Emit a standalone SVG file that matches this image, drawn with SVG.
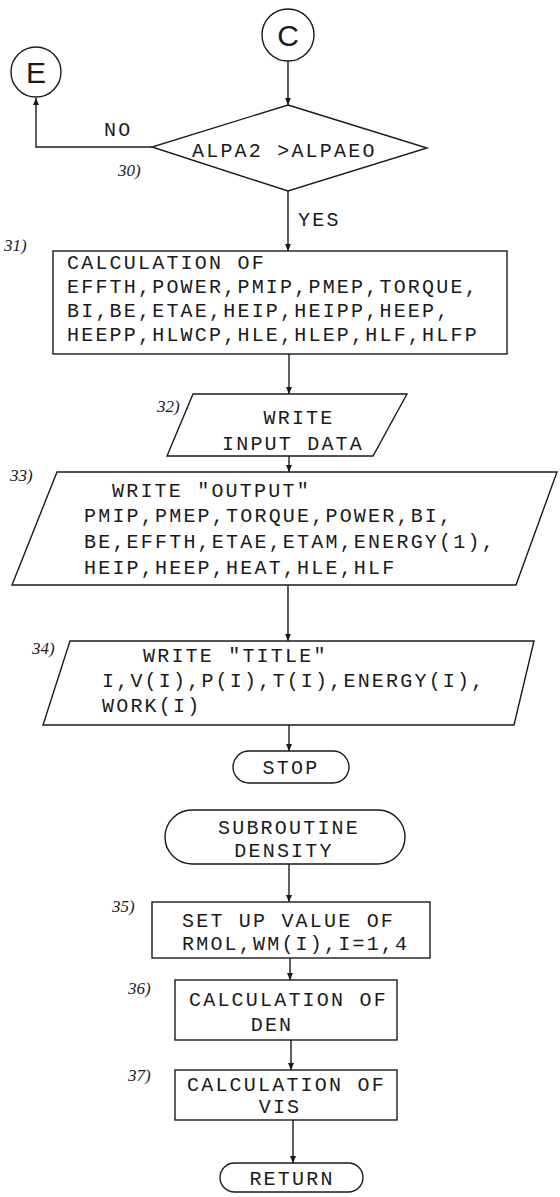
<svg xmlns="http://www.w3.org/2000/svg" width="560" height="1197" viewBox="0 0 560 1197">
<style>
.s{fill:none;stroke:#1a1a1a;stroke-width:1.4}
.t{font-family:"Liberation Mono",monospace;font-size:20px;letter-spacing:2.2px;fill:#1a1a1a}
.m{text-anchor:middle}
.n{font-family:"Liberation Serif",serif;font-style:italic;font-size:17px;fill:#1a1a1a}
.c{font-family:"Liberation Sans",sans-serif;font-size:30px;fill:#1a1a1a;text-anchor:middle}
</style>
<defs>
<marker id="a" markerWidth="7" markerHeight="6" refX="7" refY="3" orient="auto" markerUnits="userSpaceOnUse">
<path d="M0,0 L7,3 L0,6 z" fill="#1a1a1a"/>
</marker>
</defs>
<rect width="560" height="1197" fill="#fff"/>
<g id="connectors" class="s" marker-end="url(#a)">
<path d="M288,61 V105"/>
<path d="M152,147 H36 V98"/>
<path d="M288,191 V251"/>
<path d="M289,354 V394"/>
<path d="M289,456 V472"/>
<path d="M288,585 V641"/>
<path d="M289,725 V751"/>
<path d="M289,864 V902"/>
<path d="M290,958 V980"/>
<path d="M291,1040 V1070"/>
<path d="M293,1120 V1163"/>
</g>
<g id="C">
<circle class="s" cx="288" cy="35" r="26"/>
<text class="c" x="288" y="46">C</text>
</g>
<g id="E">
<circle class="s" cx="36" cy="72" r="25"/>
<text class="c" x="36" y="83">E</text>
</g>
<g id="n30">
<polygon class="s" points="288,105 427,148 288,191 152,147"/>
<text class="t" x="192" y="157">ALPA2 &gt;ALPAEO</text>
<text class="n" x="118" y="176">30)</text>
<text class="t" x="104" y="136">NO</text>
<text class="t" x="298" y="226">YES</text>
</g>
<g id="n31">
<rect class="s" x="53" y="251" width="454" height="103"/>
<text class="n" x="4" y="251">31)</text>
<text class="t" x="67" y="269">CALCULATION OF</text>
<text class="t" x="67" y="293">EFFTH,POWER,PMIP,PMEP,TORQUE,</text>
<text class="t" x="67" y="317">BI,BE,ETAE,HEIP,HEIPP,HEEP,</text>
<text class="t" x="67" y="341">HEEPP,HLWCP,HLE,HLEP,HLF,HLFP</text>
</g>
<g id="n32">
<polygon class="s" points="193,394 407,394 373,456 167,456"/>
<text class="n" x="157" y="412">32)</text>
<text class="t m" x="299" y="424">WRITE</text>
<text class="t m" x="293" y="450">INPUT DATA</text>
</g>
<g id="n33">
<polygon class="s" points="57,472 557,472 516,585 12,585"/>
<text class="n" x="10" y="481">33)</text>
<text class="t" x="112" y="497">WRITE  "OUTPUT"</text>
<text class="t" x="84" y="522">PMIP,PMEP,TORQUE,POWER,BI,</text>
<text class="t" x="84" y="548">BE,EFFTH,ETAE,ETAM,ENERGY(1),</text>
<text class="t" x="84" y="574">HEIP,HEEP,HEAT,HLE,HLF</text>
</g>
<g id="n34">
<polygon class="s" points="70,641 534,641 514,725 43,725"/>
<text class="n" x="32" y="654">34)</text>
<text class="t" x="143" y="662">WRITE  "TITLE"</text>
<text class="t" x="102" y="687">I,V(I),P(I),T(I),ENERGY(I),</text>
<text class="t" x="102" y="712">WORK(I)</text>
</g>
<g id="stop">
<rect class="s" x="233" y="751" width="116" height="32" rx="16"/>
<text class="t m" x="291" y="774">STOP</text>
</g>
<g id="sub">
<rect class="s" x="165" y="810" width="240" height="54" rx="27"/>
<text class="t m" x="289" y="834">SUBROUTINE</text>
<text class="t m" x="284" y="857">DENSITY</text>
</g>
<g id="n35">
<rect class="s" x="152" y="902" width="278" height="56"/>
<text class="n" x="112" y="912">35)</text>
<text class="t" x="182" y="927">SET UP VALUE OF</text>
<text class="t" x="182" y="950">RMOL,WM(I),I=1,4</text>
</g>
<g id="n36">
<rect class="s" x="175" y="980" width="222" height="60"/>
<text class="n" x="128" y="994">36)</text>
<text class="t" x="189" y="1006">CALCULATION OF</text>
<text class="t m" x="272" y="1031">DEN</text>
</g>
<g id="n37">
<rect class="s" x="175" y="1070" width="222" height="50"/>
<text class="n" x="128" y="1081">37)</text>
<text class="t" x="187" y="1091">CALCULATION OF</text>
<text class="t m" x="280" y="1113">VIS</text>
</g>
<g id="ret">
<rect class="s" x="220" y="1163" width="143" height="29" rx="14.5"/>
<text class="t m" x="292" y="1185">RETURN</text>
</g>
</svg>
